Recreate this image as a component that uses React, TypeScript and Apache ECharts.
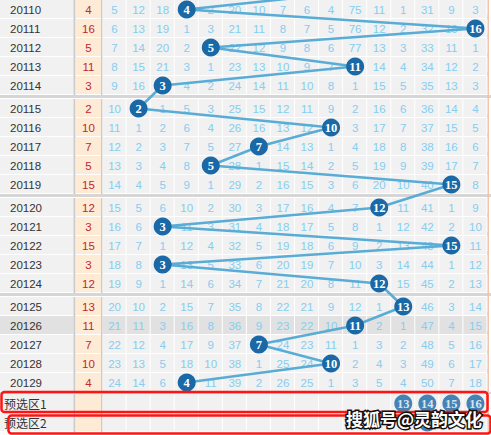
import React, { useEffect, useRef } from "react";
import * as echarts from "echarts";

// ---------------- data ----------------
const periods = [
  "20110", "20111", "20112", "20113", "20114",
  "20115", "20116", "20117", "20118", "20119",
  "20120", "20121", "20122", "20123", "20124",
  "20125", "20126", "20127", "20128", "20129",
];
const winners = [4, 16, 5, 11, 3, 2, 10, 7, 5, 15, 12, 3, 15, 3, 12, 13, 11, 7, 10, 4];
const previousWinner = 13; // period 20109, just above the visible area

const missGroup1 = [
  [5, 12, 18, 0, 2, 20, 10, 7, 6, 4, 75, 11, 1, 31, 9, 3],
  [6, 13, 19, 1, 3, 21, 11, 8, 7, 5, 76, 12, 2, 32, 10, 0],
  [7, 14, 20, 2, 0, 22, 12, 9, 8, 6, 77, 13, 3, 33, 11, 1],
  [8, 15, 21, 3, 1, 23, 13, 10, 9, 7, 0, 14, 4, 34, 12, 2],
  [9, 16, 0, 4, 2, 24, 14, 11, 10, 8, 1, 15, 5, 35, 13, 3],
];
const missGroup2 = [
  [10, 0, 1, 5, 3, 25, 15, 12, 11, 9, 2, 16, 6, 36, 14, 4],
  [11, 1, 2, 6, 4, 26, 16, 13, 12, 0, 3, 17, 7, 37, 15, 5],
  [12, 2, 3, 7, 5, 27, 0, 14, 13, 1, 4, 18, 8, 38, 16, 6],
  [13, 3, 4, 8, 0, 28, 1, 15, 14, 2, 5, 19, 9, 39, 17, 7],
  [14, 4, 5, 9, 1, 29, 2, 16, 15, 3, 6, 20, 10, 40, 0, 8],
];
const missGroup3 = [
  [15, 5, 6, 10, 2, 30, 3, 17, 16, 4, 7, 0, 11, 41, 1, 9],
  [16, 6, 0, 11, 3, 31, 4, 18, 17, 5, 8, 1, 12, 42, 2, 10],
  [17, 7, 1, 12, 4, 32, 5, 19, 18, 6, 9, 2, 13, 43, 0, 11],
  [18, 8, 0, 13, 5, 33, 6, 20, 19, 7, 10, 3, 14, 44, 1, 12],
  [19, 9, 1, 14, 6, 34, 7, 21, 20, 8, 11, 0, 15, 45, 2, 13],
];
const missGroup4 = [
  [20, 10, 2, 15, 7, 35, 8, 22, 21, 9, 12, 1, 0, 46, 3, 14],
  [21, 11, 3, 16, 8, 36, 9, 23, 22, 10, 0, 2, 1, 47, 4, 15],
  [22, 12, 4, 17, 9, 37, 0, 24, 23, 11, 1, 3, 2, 48, 5, 16],
  [23, 13, 5, 18, 10, 38, 1, 25, 24, 0, 2, 4, 3, 49, 6, 17],
  [24, 14, 6, 0, 11, 39, 2, 26, 25, 1, 3, 5, 4, 50, 7, 18],
];
const highlightPeriod = "20126";
const preselectLabels = ["预选区1", "预选区2"];
const preselect1 = [13, 14, 15, 16];
const preselect2 = [14];
const watermarkText = "搜狐号@灵韵文化";

// ---------------- layout ----------------
const WIDTH = 491;
const HEIGHT = 435;
const CELL_W = 24.06;
const NUM_LEFT = 102.5;
const ROW_H = 19;
const xu = (px: number) => 0.5 + (px - NUM_LEFT) / CELL_W;
const XMIN = xu(0);
const XMAX = xu(WIDTH);
const rowTop = (i: number) => i * ROW_H + (i < 20 ? Math.floor(i / 5) * 4 : 14);
const rowCenter = (i: number) => rowTop(i) + ROW_H / 2;

const missRows = [...missGroup1, ...missGroup2, ...missGroup3, ...missGroup4];

type Row = { label: string; value: string; cells: number[] | null; highlight: boolean; cjk: boolean };
const tableRows: Row[] = [
  ...periods.map((p, i) => ({
    label: p,
    value: String(winners[i]),
    cells: missRows[i],
    highlight: p === highlightPeriod,
    cjk: false,
  })),
  ...preselectLabels.map((l) => ({ label: l, value: "", cells: null, highlight: false, cjk: true })),
];

const FONT = "Liberation Sans";
const CJK = "Noto Sans CJK SC";

function renderRow(params: any, api: any) {
  const r = params.dataIndex;
  const row = tableRows[r];
  const y0 = api.coord([0, rowTop(r)])[1];
  const y1 = api.coord([0, rowTop(r) + ROW_H])[1];
  const px = (u: number) => api.coord([u, 0])[0];
  const h = y1 - y0 - 1;
  const yc = y0 + h / 2 + 0.5;
  const children: any[] = [];
  const rect = (x: number, y: number, w: number, hh: number, fill: string) =>
    children.push({ type: "rect", shape: { x, y, width: w, height: hh }, style: { fill } });
  const text = (t: string, x: number, fill: string, align: string, family: string, size: number) =>
    children.push({
      type: "text",
      style: { text: t, x, y: yc, fill, align, verticalAlign: "middle", fontSize: size, fontFamily: family },
    });

  if (r > 0 && r % 5 === 0 && r < 20) rect(0, y0 - 4, WIDTH, 3, "#d6d6d6");
  if (r === 20) rect(0, y0 - 2, WIDTH, 2, "#d6d6d6");

  const x0 = px(XMIN);
  const cellFill = row.highlight ? "#e1e1e1" : "#f1f1f1";
  rect(x0, y0, 73.5, h, cellFill);
  rect(x0 + 73.5, y0, 2, y1 - y0, "#cbcbcb");
  rect(x0 + 75.5, y0, 25.5, h, "#fdebd6");
  rect(x0 + 101, y0, 1.5, y1 - y0, "#cbcbcb");
  for (let n = 1; n <= 16; n++) {
    const a = px(n - 0.5);
    const b = px(n + 0.5);
    rect(a, y0, b - a - 1, h, cellFill);
  }
  const right = px(16.5);
  rect(right, y0 - 4, 1.5, y1 - y0 + 4, "#f0c4ae");

  if (row.cjk) text(row.label, x0 + 4, "#333", "left", CJK, 12);
  else text(row.label, x0 + 10, "#333", "left", FONT, 11.5);
  if (row.value) text(row.value, x0 + 88.5, "#c1272d", "center", FONT, 11.5);
  if (row.cells) {
    row.cells.forEach((v, k) => {
      if (v > 0) text(String(v), px(k + 1), "#86cdf0", "center", FONT, 11.5);
    });
  }
  return { type: "group", children };
}

export default function App() {
  const ref = useRef<HTMLDivElement>(null);
  useEffect(() => {
    document.body.style.margin = "0";
    const chart = echarts.init(ref.current!, undefined, { renderer: "svg" });
    const ballLabel = {
      show: true,
      position: "inside",
      formatter: (p: any) => String(p.value[0]),
      color: "#fff",
      fontWeight: "bold",
      fontSize: 12.5,
      fontFamily: "Liberation Serif",
    };
    const lineData: any[] = [
      { value: [previousWinner, rowCenter(-1)], symbol: "none", label: { show: false } },
      ...winners.map((w, i) => [w, rowCenter(i)]),
    ];
    chart.setOption({
      animation: false,
      grid: { left: 0, right: 0, top: 0, bottom: 0 },
      xAxis: { type: "value", min: XMIN, max: XMAX, show: false },
      yAxis: { type: "value", min: 0, max: HEIGHT, inverse: true, show: false },
      series: [
        {
          type: "custom",
          silent: true,
          z: 1,
          data: tableRows.map((_, i) => [0, rowCenter(i)]),
          renderItem: renderRow,
        },
        {
          type: "line",
          z: 3,
          silent: true,
          clip: true,
          data: lineData,
          symbol: "circle",
          symbolSize: 18,
          itemStyle: { color: "#1b68a6" },
          lineStyle: { color: "#58acd6", width: 2.5 },
          label: ballLabel,
          emphasis: { disabled: true },
        },
        {
          type: "scatter",
          z: 3,
          silent: true,
          data: [
            ...preselect1.map((n) => [n, rowCenter(20)]),
            ...preselect2.map((n) => [n, rowCenter(21)]),
          ],
          symbol: "circle",
          symbolSize: 18,
          itemStyle: { color: "#1b68a6" },
          label: ballLabel,
          emphasis: { disabled: true },
        },
      ],
      graphic: [
        {
          type: "rect",
          z: 150,
          silent: true,
          shape: { x: 1.5, y: 392, width: 486, height: 20, r: 3 },
          style: { fill: "none", stroke: "#ff1414", lineWidth: 2.5 },
        },
        {
          type: "rect",
          z: 150,
          silent: true,
          shape: { x: 8.5, y: 415.5, width: 482, height: 18, r: 3 },
          style: { fill: "none", stroke: "#ff1414", lineWidth: 2.5 },
        },
        {
          type: "text",
          z: 200,
          silent: true,
          x: 414,
          y: 418,
          style: {
            text: watermarkText,
            fill: "#ffffff",
            stroke: "#111111",
            lineWidth: 3,
            fontSize: 17,
            fontWeight: "bold",
            fontFamily: CJK,
            align: "center",
            verticalAlign: "middle",
          },
        },
      ],
    });
    return () => chart.dispose();
  }, []);
  return <div ref={ref} style={{ width: WIDTH, height: HEIGHT }} />;
}
